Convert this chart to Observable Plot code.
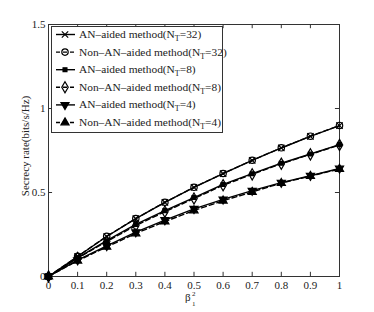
<!DOCTYPE html>
<html><head><meta charset="utf-8">
<script src="https://cdn.jsdelivr.net/npm/d3@7"></script>
<script src="https://cdn.jsdelivr.net/npm/@observablehq/plot@0.6"></script>
<style>body{margin:0;background:#fff}</style>
</head><body><div id="chart"></div>
<script>
const beta = [0, 0.1, 0.2, 0.3, 0.4, 0.5, 0.6, 0.7, 0.8, 0.9, 1];
const anN32 = [0, 0.119, 0.238, 0.344, 0.441, 0.530, 0.612, 0.691, 0.765, 0.834, 0.898];
const nonN32 = [0, 0.120, 0.239, 0.345, 0.442, 0.531, 0.613, 0.692, 0.766, 0.835, 0.899];
const anN8 = [0, 0.111, 0.213, 0.310, 0.392, 0.470, 0.548, 0.612, 0.674, 0.729, 0.785];
const nonN8 = [0, 0.110, 0.208, 0.303, 0.386, 0.464, 0.543, 0.608, 0.671, 0.727, 0.783];
const anN4 = [0, 0.097, 0.182, 0.264, 0.336, 0.403, 0.459, 0.511, 0.559, 0.600, 0.643];
const nonN4 = [0, 0.094, 0.176, 0.256, 0.327, 0.393, 0.451, 0.503, 0.556, 0.598, 0.640];
const seriesNames = ["AN\u2013aided method", "Non\u2013AN\u2013aided method", "AN\u2013aided method", "Non\u2013AN\u2013aided method", "AN\u2013aided method", "Non\u2013AN\u2013aided method"];
const seriesNT = ["32", "32", "8", "8", "4", "4"];
const xTicks = [0, 0.1, 0.2, 0.3, 0.4, 0.5, 0.6, 0.7, 0.8, 0.9, 1];
const yTicks = [0, 0.5, 1, 1.5];
const yLabel = "Secrecy rate(bits/s/Hz)";

const triangleDown = {
  draw(context, size) {
    const s3 = Math.sqrt(3);
    const y = -Math.sqrt(size / (s3 * 3));
    context.moveTo(0, -y * 2);
    context.lineTo(-s3 * y, y);
    context.lineTo(s3 * y, y);
    context.closePath();
  }
};
const values = [anN32, nonN32, anN8, nonN8, anN4, nonN4];
const symbols = [d3.symbolTimes, d3.symbolCircle, d3.symbolSquare, d3.symbolDiamond, triangleDown, d3.symbolTriangle];
const fills = ["none", "none", "black", "none", "black", "black"];
const sizes = [3, 3.2, 2.2, 3.4, 3, 3];
const dashes = [null, "5,3", null, "5,3", null, "5,3"];

const rows = values.map((v, i) => beta.map((b, j) => ({x: b, y: v[j], s: i})));

const marks = [
  Plot.frame({stroke: "#333"}),
  Plot.axisX(xTicks, {tickSize: 0, tickPadding: 5, tickFormat: d => String(d), label: null, fill: "#222"}),
  Plot.axisY(yTicks, {tickSize: 0, tickPadding: 3, tickFormat: d => String(d), label: null, fill: "#222"}),
  Plot.ruleX(xTicks, {x: d => d, y1: 0, y2: 0.025, stroke: "#333"}),
  Plot.ruleX(xTicks, {x: d => d, y1: 1.5, y2: 1.475, stroke: "#333"}),
  Plot.ruleY(yTicks, {y: d => d, x1: 0, x2: 0.014, stroke: "#333"}),
  Plot.ruleY(yTicks, {y: d => d, x1: 1, x2: 0.986, stroke: "#333"})
];
rows.forEach((r, i) => {
  marks.push(Plot.line(r, {x: "x", y: "y", stroke: "black", strokeWidth: 1.4, strokeDasharray: dashes[i]}));
  marks.push(Plot.dot(r, {x: "x", y: "y", symbol: symbols[i], r: sizes[i], stroke: "black", strokeWidth: 1.2, fill: fills[i]}));
});

const plot = Plot.plot({
  width: 374, height: 312,
  marginLeft: 48, marginRight: 35, marginTop: 24, marginBottom: 36,
  x: {domain: [0, 1]},
  y: {domain: [0, 1.5]},
  style: {fontFamily: "Liberation Serif", fontSize: "11px", color: "#222", background: "white"},
  marks
});
document.getElementById("chart").appendChild(plot);

const svg = d3.select(plot);
const xs = plot.scale("x");
const ys = plot.scale("y");
const txt = (sel) => sel.attr("font-family", "Liberation Serif").attr("fill", "#222").attr("text-anchor", "start");

// y label
txt(svg.append("text")).attr("text-anchor", "middle")
  .attr("transform", `translate(25,${(ys.apply(0) + ys.apply(1.5)) / 2 - 4}) rotate(-90)`)
  .attr("dy", "0.35em").attr("font-size", 11).text(yLabel);

// x label
const cx = xs.apply(0.5);
txt(svg.append("text")).attr("x", cx - 8.5).attr("y", 301).attr("font-size", 11).text("\u03B2");
txt(svg.append("text")).attr("x", cx - 1.5).attr("y", 296).attr("font-size", 7).text("2");
txt(svg.append("text")).attr("x", cx - 1.5).attr("y", 306).attr("font-size", 7).text("1");

// legend
const lg = svg.append("g");
lg.append("rect").attr("x", 51.5).attr("y", 26.5).attr("width", 171).attr("height", 106)
  .attr("fill", "white").attr("stroke", "#333");
seriesNames.forEach((name, i) => {
  const cy = 34.5 + i * 17.6;
  lg.append("line").attr("x1", 56).attr("x2", 75).attr("y1", cy).attr("y2", cy)
    .attr("stroke", "black").attr("stroke-width", 1.4).attr("stroke-dasharray", dashes[i] ? "4,3" : null);
  lg.append("path").attr("transform", `translate(65,${cy})`)
    .attr("d", d3.symbol(symbols[i], Math.PI * sizes[i] * sizes[i])())
    .attr("stroke", "black").attr("stroke-width", 1.2).attr("fill", fills[i]);
  const t = txt(lg.append("text")).attr("x", 79).attr("y", cy + 3.5).attr("font-size", 11.4);
  t.append("tspan").text(name + "(N");
  t.append("tspan").attr("dy", 3).attr("font-size", 8).text("T");
  t.append("tspan").attr("dy", -3).text("=" + seriesNT[i] + ")");
});
</script></body></html>
